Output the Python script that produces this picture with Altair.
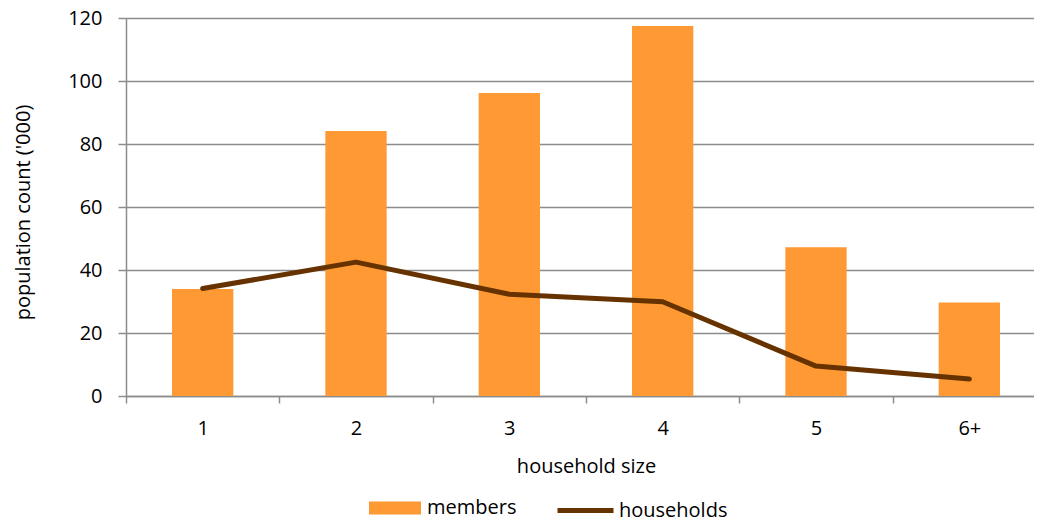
import altair as alt
import pandas as pd

sizes = ["1", "2", "3", "4", "5", "6+"]
members = [34.0, 84.1, 96.2, 117.5, 47.2, 29.7]
households = [34.1, 42.5, 32.3, 29.9, 9.5, 5.4]

df = pd.DataFrame({
    "size": sizes,
    "members": members,
    "households": households,
    "s_members": ["members"] * len(sizes),
    "s_households": ["households"] * len(sizes),
})

FONT = "Open Sans"
FS = 20
GRID = "#8c8c8c"

x = alt.X(
    "size:N",
    sort=sizes,
    scale=alt.Scale(paddingInner=0, paddingOuter=0, range=[0, 920]),
    axis=alt.Axis(
        title="household size",
        labelAngle=0,
        tickBand="extent",
        tickSize=7,
        tickWidth=1.5,
        tickColor=GRID,
        domainColor=GRID,
        domainWidth=1.5,
        labelBaseline="alphabetic",
        labelPadding=31,
        labelFontSize=FS,
        labelFont=FONT,
        labelColor="#000000",
        titleFont=FONT,
        titleFontSize=FS,
        titleFontWeight="normal",
        titleColor="#000000",
        titleBaseline="alphabetic",
        titleX=460,
        titleY=76,
        grid=False,
    ),
)

y_axis = alt.Axis(
    title="population count ('000)",
    values=[0, 20, 40, 60, 80, 100, 120],
    grid=True,
    gridColor=GRID,
    gridWidth=1.5,
    tickSize=8,
    tickWidth=1.5,
    tickColor=GRID,
    domainColor=GRID,
    domainWidth=1.5,
    labelPadding=16,
    labelFontSize=FS,
    labelFont=FONT,
    labelColor="#000000",
    titleFont=FONT,
    titleFontSize=FS,
    titleFontWeight="normal",
    titleColor="#000000",
    titleAngle=270,
    titleBaseline="alphabetic",
    titleAlign="center",
    titleX=-97,
    titleY=194,
)

bars = alt.Chart(df).mark_bar(width={"band": 0.4}).encode(
    x=x,
    y=alt.Y("members:Q", scale=alt.Scale(domain=[0, 120]), axis=y_axis),
    fill=alt.Fill(
        "s_members:N",
        scale=alt.Scale(domain=["members"], range=["#FF9933"]),
        legend=alt.Legend(
            title=None,
            orient="none",
            legendX=243,
            legendY=464,
            symbolType="M-1,-0.25H1V0.25H-1Z",
            symbolSize=2704,
            symbolStrokeWidth=0,
            symbolOpacity=1,
            labelOffset=6,
            labelFont=FONT,
            labelFontSize=FS,
            labelColor="#000000",
            padding=0,
        ),
    ),
)

line = alt.Chart(df).mark_line(strokeWidth=5, strokeCap="round", strokeJoin="round").encode(
    x=x,
    y=alt.Y("households:Q", scale=alt.Scale(domain=[0, 120])),
    stroke=alt.Stroke(
        "s_households:N",
        scale=alt.Scale(domain=["households"], range=["#663300"]),
        legend=alt.Legend(
            title=None,
            orient="none",
            legendX=429,
            legendY=462,
            symbolType="stroke",
            symbolSize=3136,
            symbolStrokeWidth=5,
            labelOffset=3,
            labelFont=FONT,
            labelFontSize=FS,
            labelColor="#000000",
            padding=0,
        ),
    ),
)

chart = alt.layer(bars, line).resolve_scale(fill="independent", stroke="independent").properties(
    width=908,
    height=378,
    autosize=alt.AutoSizeParams(type="none"),
    padding={"left": 118, "top": 10, "right": 0, "bottom": 126},
).configure_view(stroke=None)

chart.save("out.html", embed_options={"renderer": "svg", "actions": False})
